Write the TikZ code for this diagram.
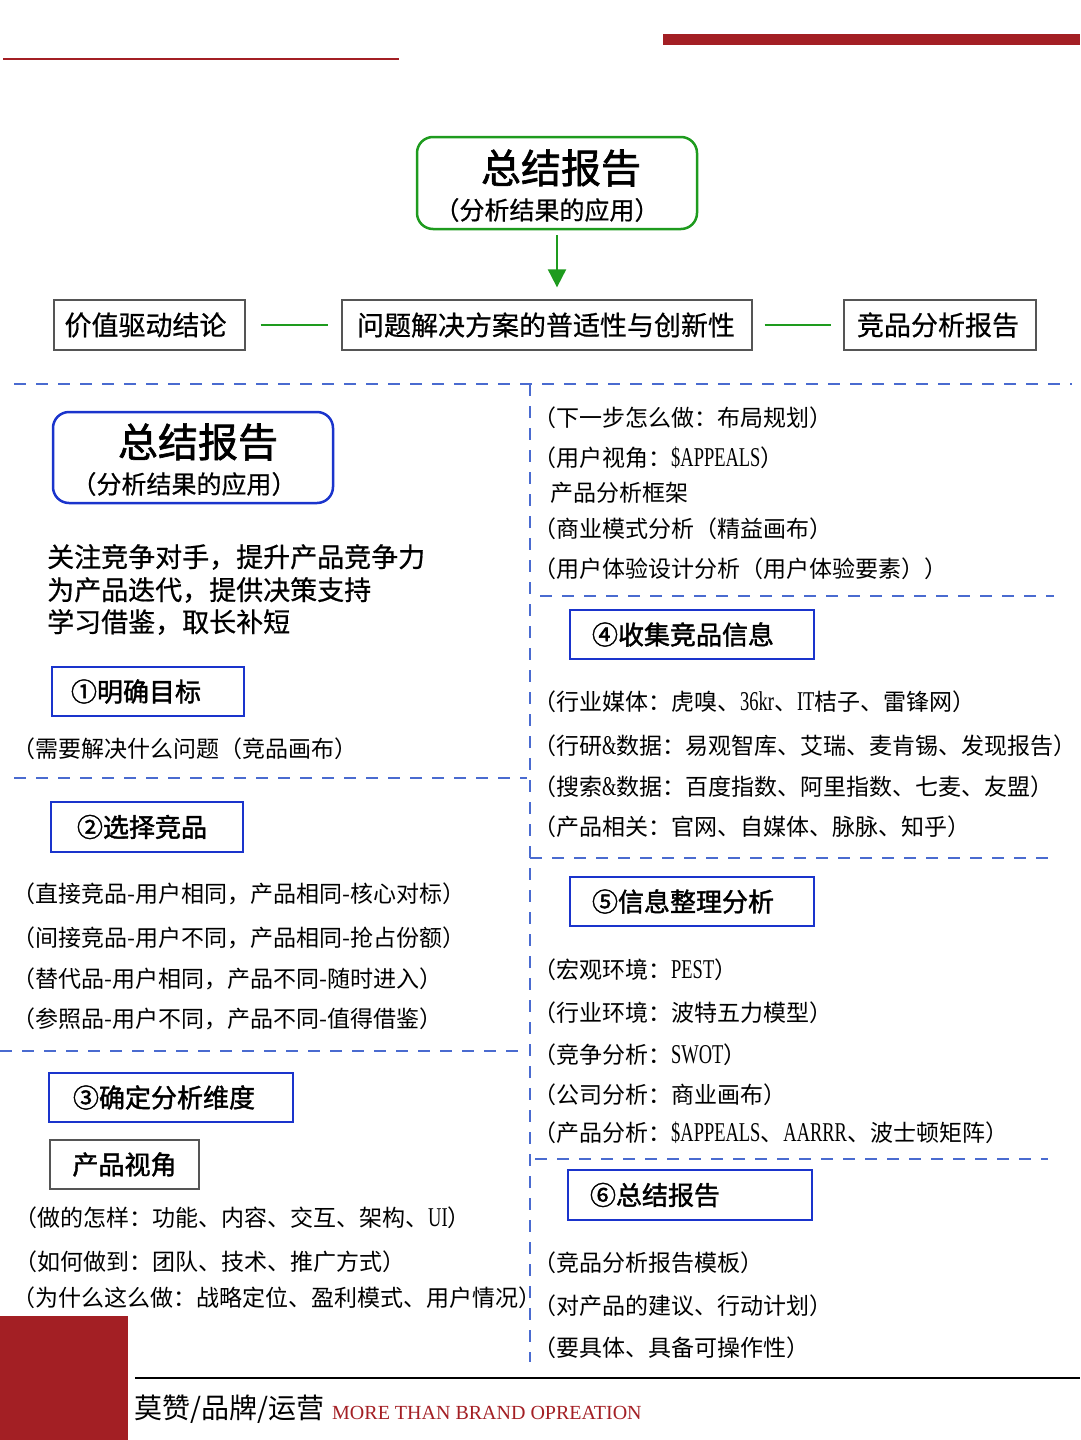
\documentclass[tikz,border=0pt]{standalone}
\usepackage{fontspec}
\setmainfont{Noto Sans CJK SC}[BoldFont={Noto Sans CJK SC}, BoldFeatures={FakeBold=1.6}]
\newfontfamily\medf[FakeBold=0.6]{Noto Sans CJK SC}
\newfontfamily\latf[FakeStretch=0.68, Scale=1.18]{Liberation Serif}
\newfontfamily\footlat{Liberation Serif}
\newcommand{\lat}[1]{{\latf #1}}
\usetikzlibrary{arrows.meta}
\definecolor{darkred}{HTML}{A31F24}
\definecolor{gline}{HTML}{1E9B1E}
\definecolor{bbox}{HTML}{1A34CC}
\definecolor{dashblue}{HTML}{4A6BD0}
\definecolor{gbord}{HTML}{555555}
\tikzset{
  body/.style={anchor=west, inner sep=0pt, font=\fontsize{23}{25}\selectfont},
  lead/.style={anchor=west, inner sep=0pt, font=\medf\fontsize{27}{30}\selectfont},
  stepbox/.style={draw=bbox, line width=2pt, inner sep=0pt, minimum height=49pt, font=\bfseries\fontsize{26}{28}\selectfont},
  graybox/.style={draw=gbord, line width=1.3pt, inner sep=0pt, minimum height=50pt, font=\medf\fontsize{27}{29}\selectfont},
  dline/.style={draw=dashblue, line width=1.3pt, dash pattern=on 12pt off 10pt},
  bigtitle/.style={inner sep=0pt, font=\bfseries\fontsize{40}{42}\selectfont},
  subtitle/.style={inner sep=0pt, font=\medf\fontsize{25}{27}\selectfont},
}
\begin{document}
\begin{tikzpicture}[x=1pt,y=-1pt]
\useasboundingbox (0,0) rectangle (1080,1440);
% top decoration
\draw[darkred, line width=2pt] (3,59) -- (399,59);
\fill[darkred] (663,34) rectangle (1080,45);

% top green box
\node[draw=gline, line width=2.5pt, rounded corners=16pt, minimum width=280pt, minimum height=92pt, inner sep=0pt] (topbox) at (557,183) {};
\node[bigtitle] (toptitle) at (561,168) {总结报告};
\node[subtitle] (topsub) at (547,210) {（分析结果的应用）};

% top row
\node[graybox, minimum width=191pt] (val) at (149.5,325) {价值驱动结论\hspace*{8pt}};
\node[graybox, minimum width=410pt] (prob) at (547,325) {问题解决方案的普适性与创新性\hspace*{2pt}};
\node[graybox, minimum width=192pt] (comp) at (940,325) {竞品分析报告\hspace*{4pt}};
\draw[gline, line width=2pt, -{Triangle[width=18pt,length=18pt]}, shorten <=5pt, shorten >=12pt] (topbox.south) -- (topbox.south |- prob.north);
\draw[gline, line width=1.5pt, shorten <=15pt, shorten >=13pt] (val) -- (prob);
\draw[gline, line width=1.5pt, shorten <=12pt, shorten >=12pt] (prob) -- (comp);

% dashed separators
\draw[dline] (14,384) -- (1072,384);
\draw[dline] (530,384) -- (530,1362);
\draw[dline] (14,778) -- (527,778);
\draw[dline] (0,1051) -- (527,1051);
\draw[dline] (540,596) -- (1054,596);
\draw[dline] (530,858) -- (1048,858);
\draw[dline] (535,1159) -- (1048,1159);

% left blue rounded box
\node[draw=bbox, line width=2.5pt, rounded corners=16pt, minimum width=280pt, minimum height=91pt, inner sep=0pt] (lbox) at (193,457.5) {};
\node[bigtitle] (ltitle) at (198,442) {总结报告};
\node[subtitle] (lsub) at (184,484) {（分析结果的应用）};

\node[lead] (l1) at (47,557) {关注竞争对手，提升产品竞争力};
\node[lead] (l2) at (47,590) {为产品迭代，提供决策支持};
\node[lead] (l3) at (47,622) {学习借鉴，取长补短};

\node[stepbox, minimum width=192pt] (s1) at (148,691.5) {①明确目标\hspace*{24pt}};
\node[body] (t11) at (12,749) {（需要解决什么问题（竞品画布）};

\node[stepbox, minimum width=192pt, minimum height=50pt] (s2) at (147,827) {②选择竞品\hspace*{10pt}};
\node[body] (t21) at (12,894) {（直接竞品-用户相同，产品相同-核心对标）};
\node[body] (t22) at (12,938) {（间接竞品-用户不同，产品相同-抢占份额）};
\node[body] (t23) at (12,979) {（替代品-用户相同，产品不同-随时进入）};
\node[body] (t24) at (12,1019) {（参照品-用户不同，产品不同-值得借鉴）};

\node[stepbox, minimum width=244pt] (s3) at (171,1097.5) {③确定分析维度\hspace*{14pt}};
\node[graybox, minimum width=149pt, minimum height=49pt, font=\rmfamily\bfseries\fontsize{26}{28}\selectfont] (pv) at (124.5,1164.5) {产品视角};
\node[body] (t31) at (14,1218) {（做的怎样：功能、内容、交互、架构、\lat{UI}）};
\node[body] (t32) at (14,1262) {（如何做到：团队、技术、推广方式）};
\node[body] (t33) at (12,1298) {（为什么这么做：战略定位、盈利模式、用户情况）};

% right column
\node[body] (r01) at (533,418) {（下一步怎么做：布局规划）};
\node[body] (r02) at (533,458) {（用户视角：\lat{\$APPEALS}）};
\node[body] (r03) at (550,493) {产品分析框架};
\node[body] (r04) at (533,529) {（商业模式分析（精益画布）};
\node[body] (r05) at (533,569) {（用户体验设计分析（用户体验要素））};

\node[stepbox, minimum width=244pt] (s4) at (692,634.5) {④收集竞品信息\hspace*{18pt}};
\node[body] (r41) at (533,702) {（行业媒体：虎嗅、\lat{36kr}、\lat{IT}桔子、雷锋网）};
\node[body] (r42) at (533,746) {（行研\lat{\&}数据：易观智库、艾瑞、麦肯锡、发现报告）};
\node[body] (r43) at (533,787) {（搜索\lat{\&}数据：百度指数、阿里指数、七麦、友盟）};
\node[body] (r44) at (533,827) {（产品相关：官网、自媒体、脉脉、知乎）};

\node[stepbox, minimum width=244pt] (s5) at (692,901.5) {⑤信息整理分析\hspace*{18pt}};
\node[body] (r51) at (533,970) {（宏观环境：\lat{PEST}）};
\node[body] (r52) at (533,1013) {（行业环境：波特五力模型）};
\node[body] (r53) at (533,1055) {（竞争分析：\lat{SWOT}）};
\node[body] (r54) at (533,1095) {（公司分析：商业画布）};
\node[body] (r55) at (533,1133) {（产品分析：\lat{\$APPEALS}、\lat{AARRR}、波士顿矩阵）};

\node[stepbox, minimum width=244pt, minimum height=50pt] (s6) at (690,1195) {⑥总结报告\hspace*{70pt}};
\node[body] (r61) at (533,1263) {（竞品分析报告模板）};
\node[body] (r62) at (533,1306) {（对产品的建议、行动计划）};
\node[body] (r63) at (533,1348) {（要具体、具备可操作性）};

% footer
\fill[darkred] (0,1316) rectangle (128,1440);
\draw[black, line width=2pt] (135,1378) -- (1080,1378);
\node[anchor=base west, inner sep=0pt, font=\fontsize{28}{30}\selectfont] (brand) at (134,1418) {莫赞/品牌/运营};
\node[anchor=base west, inner sep=0pt, text=darkred, font=\footlat\fontsize{20}{22}\selectfont] (brandlat) at (332,1419) {MORE THAN BRAND OPREATION};
\end{tikzpicture}
\end{document}
